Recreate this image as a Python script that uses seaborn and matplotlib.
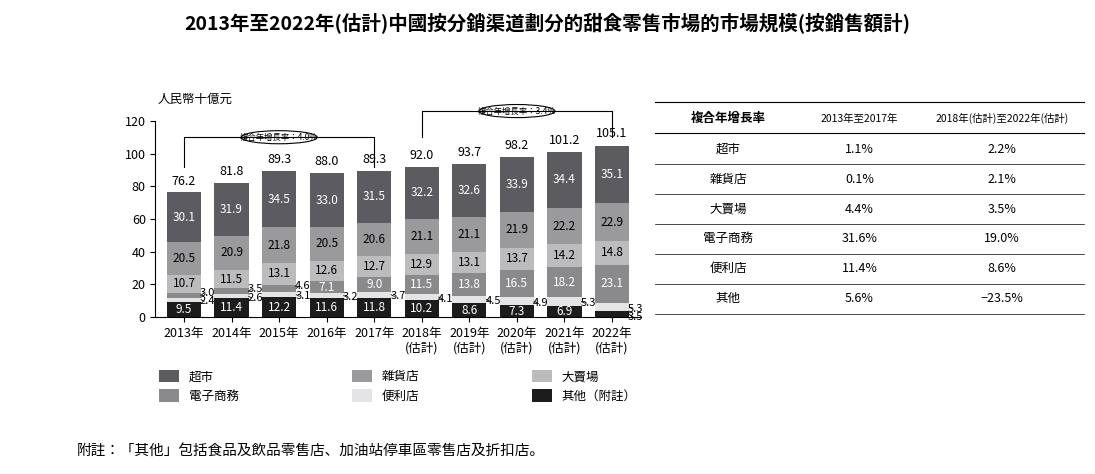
import matplotlib
matplotlib.use("Agg")
import matplotlib.pyplot as plt
import seaborn as sns
import numpy as np
import pandas as pd
from matplotlib.patches import Patch, Ellipse
from matplotlib import font_manager

names = {f.name for f in font_manager.fontManager.ttflist}
cjk = next((n for n in ["Noto Sans CJK TC", "Noto Sans CJK JP", "Noto Sans CJK SC"] if n in names), "DejaVu Sans")
plt.rcParams["font.family"] = [cjk, "DejaVu Sans"]

years = ["2013年", "2014年", "2015年", "2016年", "2017年", "2018年\n(估計)", "2019年\n(估計)",
         "2020年\n(估計)", "2021年\n(估計)", "2022年\n(估計)"]
other = [9.5, 11.4, 12.2, 11.6, 11.8, 10.2, 8.6, 7.3, 6.9, 3.5]
conv = [2.4, 2.6, 3.1, 3.2, 3.7, 4.1, 4.5, 4.9, 5.3, 5.3]
ecom = [3.0, 3.5, 4.6, 7.1, 9.0, 11.5, 13.8, 16.5, 18.2, 23.1]
hyper = [10.7, 11.5, 13.1, 12.6, 12.7, 12.9, 13.1, 13.7, 14.2, 14.8]
grocery = [20.5, 20.9, 21.8, 20.5, 20.6, 21.1, 21.1, 21.9, 22.2, 22.9]
superm = [30.1, 31.9, 34.5, 33.0, 31.5, 32.2, 32.6, 33.9, 34.4, 35.1]
totals = [76.2, 81.8, 89.3, 88.0, 89.3, 92.0, 93.7, 98.2, 101.2, 105.1]

series_names = ["其他（附註）", "便利店", "電子商務", "大賣場", "雜貨店", "超市"]
series_vals = [other, conv, ecom, hyper, grocery, superm]
colors = ["#1c1c1c", "#e4e4e6", "#8a8a8c", "#bcbcbe", "#9a9a9c", "#5c5c60"]

cagr_rows = ["超市", "雜貨店", "大賣場", "電子商務", "便利店", "其他"]
cagr_a = ["1.1%", "0.1%", "4.4%", "31.6%", "11.4%", "5.6%"]
cagr_b = ["2.2%", "2.1%", "3.5%", "19.0%", "8.6%", "−23.5%"]

fig = plt.figure(figsize=(10.95, 4.74), dpi=100)
ax = fig.add_axes([0.142, 0.331, 0.443, 0.414])

cum = np.cumsum(np.array(series_vals), axis=0)
for i in range(len(series_vals) - 1, -1, -1):
    df = pd.DataFrame({"year": years, "v": cum[i]})
    sns.barplot(data=df, x="year", y="v", color=colors[i], width=0.72,
                saturation=1, ax=ax, edgecolor="none")

for i, vals in enumerate(series_vals):
    bottoms = cum[i] - np.array(vals)
    for j, v in enumerate(vals):
        mid = bottoms[j] + v / 2
        if i == 1 or (i == 2 and v < 6) or (i == 0 and v < 5):
            off = {0: -1.5, 1: -1.0, 2: 1.5}[i]
            ax.text(j + 0.5, mid + off, f"{v:.1f}", fontsize=8, ha="center", va="center")
            ax.plot([j + 0.36, j + 0.42], [mid, mid + off], color="black", lw=0.6)
        else:
            tc = "white" if i in (0, 5, 2) else "black"
            ax.text(j, mid, f"{v:.1f}", fontsize=8.5, ha="center", va="center", color=tc)
for j, t in enumerate(totals):
    ax.text(j, t + 3, f"{t:.1f}", fontsize=9, ha="center", va="bottom")

ax.set_ylim(0, 120)
ax.set_xlim(-0.6, 9.6)
ax.set_yticks(range(0, 121, 20))
ax.set_xlabel("")
ax.set_ylabel("")
ax.tick_params(labelsize=9)
for s in ["top", "right"]:
    ax.spines[s].set_visible(False)
ax.text(-0.55, 131, "人民幣十億元", fontsize=9, ha="left", clip_on=False)

def bracket(x0, x1, ylow, ytop, label):
    ax.plot([x0, x0, x1, x1], [ylow, ytop, ytop, ylow], color="black", lw=0.8, clip_on=False)
    xm = (x0 + x1) / 2
    ax.add_patch(Ellipse((xm, ytop), 1.6, 8, facecolor="white", edgecolor="black", lw=0.8, clip_on=False))
    ax.text(xm, ytop, label, fontsize=6, ha="center", va="center")

bracket(0, 4, 92, 110, "複合年增長率：4.0%")
bracket(5, 9, 110, 126, "複合年增長率：3.4%")

fig.add_artist(plt.Line2D([0.598, 0.99], [0.785, 0.785], color="black", lw=0.8))
fig.text(0.665, 0.75, "複合年增長率", fontsize=9, ha="center", va="center", fontweight="bold")
fig.text(0.785, 0.75, "2013年至2017年", fontsize=7.5, ha="center", va="center")
fig.text(0.915, 0.75, "2018年(估計)至2022年(估計)", fontsize=7.5, ha="center", va="center")
ys = np.linspace(0.685, 0.37, 6)
step = ys[0] - ys[1]
fig.add_artist(plt.Line2D([0.598, 0.99], [0.72, 0.72], color="black", lw=0.8))
for k, name in enumerate(cagr_rows):
    fig.text(0.665, ys[k], name, fontsize=9, ha="center", va="center")
    fig.text(0.785, ys[k], cagr_a[k], fontsize=9, ha="center", va="center")
    fig.text(0.915, ys[k], cagr_b[k], fontsize=9, ha="center", va="center")
    fig.add_artist(plt.Line2D([0.598, 0.99], [ys[k] - step / 2] * 2, color="black", lw=0.5))

fig.suptitle("2013年至2022年(估計)中國按分銷渠道劃分的甜食零售市場的市場規模(按銷售額計)",
             fontsize=14, fontweight="bold", y=0.975)

order = [5, 2, 4, 1, 3, 0]
handles = [Patch(facecolor=colors[i]) for i in order]
labels = [series_names[i] for i in order]
fig.legend(handles, labels, ncol=3, loc="center left", bbox_to_anchor=(0.135, 0.185), frameon=False,
           fontsize=9, columnspacing=9, handlelength=1.6, handleheight=1.2)
fig.text(0.07, 0.04, "附註：「其他」包括食品及飲品零售店、加油站停車區零售店及折扣店。", fontsize=10.5,
         style="italic")
fig.savefig("out.png", dpi=100)
